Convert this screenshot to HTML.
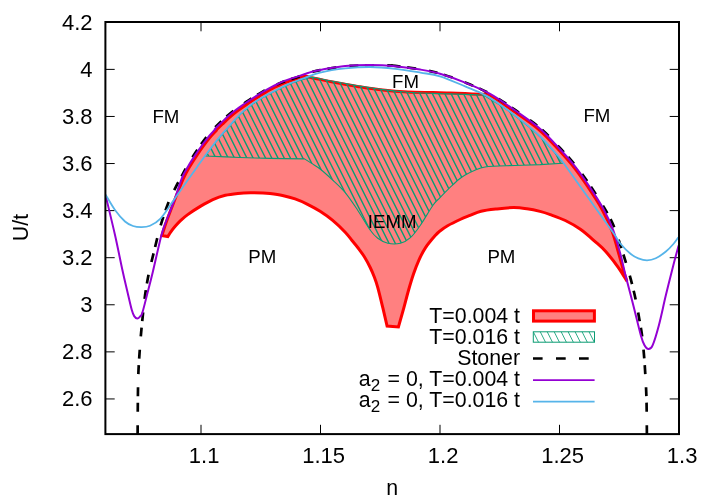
<!DOCTYPE html>
<html><head><meta charset="utf-8"><title>chart</title>
<style>html,body{margin:0;padding:0;background:#fff}body{width:718px;height:503px;overflow:hidden}svg{display:block;will-change:transform}</style></head>
<body>
<svg width="718" height="503" viewBox="0 0 718 503">
<defs>
<clipPath id="gclip"><path d="M205.30,156.00 C206.52,154.37 210.13,149.40 212.60,146.20 C215.07,143.00 217.62,139.75 220.10,136.80 C222.58,133.85 225.22,131.08 227.50,128.50 C229.78,125.92 231.70,123.62 233.80,121.30 C235.90,118.98 238.02,116.63 240.10,114.60 C242.18,112.57 244.22,110.87 246.30,109.12 C248.38,107.36 250.50,105.61 252.60,104.08 C254.70,102.54 256.82,101.20 258.90,99.89 C260.98,98.58 263.02,97.36 265.10,96.21 C267.18,95.06 269.30,94.08 271.40,93.01 C273.50,91.94 275.62,90.84 277.70,89.79 C279.78,88.74 281.82,87.68 283.90,86.70 C285.98,85.72 288.10,84.77 290.20,83.90 C292.30,83.03 294.03,82.31 296.50,81.49 C298.97,80.67 302.92,79.63 305.00,79.00 C307.08,78.37 308.33,77.92 309.00,77.70 C309.67,77.65 311.17,77.23 313.00,77.40 C314.83,77.57 316.72,78.05 320.00,78.70 C323.28,79.35 326.42,80.13 332.70,81.30 C338.98,82.47 349.35,84.32 357.70,85.70 C366.05,87.08 374.43,88.52 382.80,89.60 C391.17,90.68 399.53,91.57 407.90,92.20 C416.27,92.83 425.98,93.12 433.00,93.40 C440.02,93.68 444.65,93.73 450.00,93.90 C455.35,94.07 459.67,94.22 465.10,94.40 C470.53,94.58 479.68,94.90 482.60,95.00 C483.17,95.27 482.65,94.62 486.00,96.60 C489.35,98.58 496.58,102.68 502.70,106.90 C508.82,111.12 516.43,116.88 522.70,121.90 C528.97,126.92 534.87,131.77 540.30,137.00 C545.73,142.23 551.55,148.93 555.30,153.30 C559.05,157.67 561.55,161.55 562.80,163.20 L540.30,164.60 C536.12,164.75 524.40,165.10 515.20,165.50 C506.00,165.90 493.45,165.40 485.10,167.00 C476.75,168.60 470.53,172.08 465.10,175.10 C459.67,178.12 456.68,181.35 452.50,185.10 C448.32,188.85 443.25,194.25 440.00,197.60 C436.75,200.95 436.27,200.60 433.00,205.20 C429.73,209.80 424.17,219.78 420.40,225.20 C416.63,230.62 413.73,234.68 410.40,237.70 C407.07,240.72 404.17,242.37 400.40,243.30 C396.63,244.23 391.57,244.15 387.80,243.30 C384.03,242.45 380.72,240.38 377.80,238.20 C374.88,236.02 373.65,234.87 370.30,230.20 C366.95,225.53 361.88,216.47 357.70,210.20 C353.52,203.93 349.37,197.62 345.20,192.60 C341.03,187.58 336.88,184.03 332.70,180.10 C328.52,176.17 323.55,171.75 320.10,169.00 C316.65,166.25 314.60,165.28 312.00,163.60 C309.40,161.92 305.75,159.68 304.50,158.90 C298.75,158.82 280.75,158.63 270.00,158.40 C259.25,158.17 250.78,157.90 240.00,157.50 C229.22,157.10 211.08,156.25 205.30,156.00 Z"/></clipPath>
<clipPath id="lclip"><rect x="533.3" y="331.8" width="61.2" height="10.4"/></clipPath>
<clipPath id="plot"><rect x="105.40" y="22.00" width="573.60" height="412.10"/></clipPath>
</defs>
<rect width="718" height="503" fill="#fff"/>
<path d="M105.40,22.30 h9.3 M679.00,22.30 h-9.3 M105.40,69.38 h9.3 M679.00,69.38 h-9.3 M105.40,116.46 h9.3 M679.00,116.46 h-9.3 M105.40,163.54 h9.3 M679.00,163.54 h-9.3 M105.40,210.62 h9.3 M679.00,210.62 h-9.3 M105.40,257.70 h9.3 M679.00,257.70 h-9.3 M105.40,304.78 h9.3 M679.00,304.78 h-9.3 M105.40,351.86 h9.3 M679.00,351.86 h-9.3 M105.40,398.94 h9.3 M679.00,398.94 h-9.3 M201.00,434.10 v-9.3 M201.00,22.00 v9.3 M320.50,434.10 v-9.3 M320.50,22.00 v9.3 M440.00,434.10 v-9.3 M440.00,22.00 v9.3 M559.50,434.10 v-9.3 M559.50,22.00 v9.3" stroke="#000" stroke-width="1" fill="none"/>
<g clip-path="url(#plot)">
<path d="M161.90,235.60 C162.63,233.33 164.37,227.43 166.30,222.00 C168.23,216.57 170.69,210.17 173.50,203.00 C176.31,195.83 180.40,185.17 183.16,179.00 C185.92,172.83 187.72,170.03 190.05,166.00 C192.38,161.97 194.85,158.23 197.14,154.80 C199.43,151.37 201.63,148.32 203.77,145.40 C205.91,142.48 207.91,139.80 210.00,137.30 C212.09,134.80 215.27,131.60 216.30,130.40 C217.33,129.20 215.17,131.17 216.20,130.10 C217.23,129.03 220.42,125.98 222.50,124.00 C224.58,122.02 226.63,120.05 228.70,118.20 C230.77,116.34 232.83,114.50 234.90,112.86 C236.97,111.22 239.03,109.82 241.10,108.34 C243.17,106.86 245.23,105.41 247.30,103.98 C249.37,102.56 251.43,101.13 253.50,99.78 C255.57,98.43 257.65,97.14 259.70,95.88 C261.75,94.61 263.75,93.37 265.80,92.19 C267.85,91.00 269.93,89.84 272.00,88.76 C274.07,87.67 276.13,86.67 278.20,85.69 C280.27,84.71 282.33,83.73 284.40,82.88 C286.47,82.03 288.53,81.29 290.60,80.57 C292.67,79.86 294.40,79.30 296.80,78.59 C299.20,77.87 302.57,76.45 305.00,76.30 C307.43,76.15 310.33,77.47 311.40,77.70 C312.83,77.98 316.45,78.68 320.00,79.40 C323.55,80.12 326.42,80.83 332.70,82.00 C338.98,83.17 349.35,85.05 357.70,86.40 C366.05,87.75 374.43,89.15 382.80,90.10 C391.17,91.05 399.53,91.68 407.90,92.10 C416.27,92.52 425.98,92.43 433.00,92.60 C440.02,92.77 444.65,92.93 450.00,93.10 C455.35,93.27 459.67,93.40 465.10,93.60 C470.53,93.80 479.68,94.18 482.60,94.30 C483.83,94.45 484.68,92.32 490.00,95.20 C495.32,98.08 506.25,105.80 514.50,111.60 C522.75,117.40 532.02,123.52 539.50,130.00 C546.98,136.48 553.58,144.20 559.40,150.50 C565.22,156.80 569.80,161.97 574.40,167.80 C579.00,173.63 582.40,178.58 587.00,185.50 C591.60,192.42 597.83,201.72 602.00,209.30 C606.17,216.88 609.12,223.30 612.00,231.00 C614.88,238.70 617.22,248.33 619.30,255.50 C621.38,262.67 623.22,269.70 624.50,274.00 C625.78,278.30 626.58,280.08 627.00,281.30 C625.53,278.97 621.75,272.27 618.20,267.30 C614.65,262.33 609.50,255.75 605.70,251.50 C601.90,247.25 599.62,245.50 595.40,241.80 C591.18,238.10 585.42,232.85 580.40,229.30 C575.38,225.75 570.32,222.95 565.30,220.50 C560.28,218.05 554.52,216.12 550.30,214.60 C546.08,213.08 543.88,212.37 540.00,211.40 C536.12,210.43 531.40,209.43 527.00,208.80 C522.60,208.17 518.60,207.58 513.60,207.60 C508.60,207.62 502.43,208.30 497.00,208.90 C491.57,209.50 485.50,210.12 481.00,211.20 C476.50,212.28 473.48,214.02 470.00,215.40 C466.52,216.78 463.83,217.77 460.10,219.50 C456.37,221.23 450.95,223.88 447.60,225.80 C444.25,227.72 442.02,229.43 440.00,231.00 C437.98,232.57 437.93,232.40 435.50,235.20 C433.07,238.00 428.18,243.62 425.40,247.80 C422.62,251.98 420.78,255.93 418.80,260.30 C416.82,264.67 415.20,269.05 413.50,274.00 C411.80,278.95 410.32,283.97 408.60,290.00 C406.88,296.03 404.90,304.03 403.20,310.20 C401.50,316.37 399.20,324.20 398.40,327.00 L387.10,326.00 C386.38,322.95 384.35,314.10 382.80,307.70 C381.25,301.30 379.22,292.72 377.80,287.60 C376.38,282.48 375.57,280.35 374.30,277.00 C373.03,273.65 371.83,270.83 370.20,267.50 C368.57,264.17 366.45,260.17 364.50,257.00 C362.55,253.83 360.58,251.25 358.50,248.50 C356.42,245.75 354.22,243.22 352.00,240.50 C349.78,237.78 348.42,235.55 345.20,232.20 C341.98,228.85 336.88,223.88 332.70,220.40 C328.52,216.92 324.28,213.98 320.10,211.30 C315.92,208.62 311.77,206.37 307.60,204.30 C303.43,202.23 299.28,200.37 295.10,198.90 C290.92,197.43 286.68,196.40 282.50,195.50 C278.32,194.60 273.25,193.93 270.00,193.50 C266.75,193.07 266.27,193.03 263.00,192.90 C259.73,192.77 254.58,192.62 250.40,192.70 C246.22,192.78 242.08,192.97 237.90,193.40 C233.72,193.83 229.48,194.27 225.30,195.30 C221.12,196.33 216.97,197.75 212.80,199.60 C208.63,201.45 204.48,203.90 200.30,206.40 C196.12,208.90 191.00,212.23 187.70,214.60 C184.40,216.97 182.58,218.65 180.50,220.60 C178.42,222.55 176.78,224.47 175.20,226.30 C173.62,228.13 172.23,229.88 171.00,231.60 C169.77,233.32 168.33,235.77 167.80,236.60 L161.9,235.6 Z" fill="#ff8080" stroke="#ff0000" stroke-width="3" stroke-linejoin="miter"/>
<path d="M103.34,70.00 L193.34,250.00 M109.56,70.00 L199.56,250.00 M115.78,70.00 L205.78,250.00 M122.00,70.00 L212.00,250.00 M128.22,70.00 L218.22,250.00 M134.44,70.00 L224.44,250.00 M140.66,70.00 L230.66,250.00 M146.88,70.00 L236.88,250.00 M153.10,70.00 L243.10,250.00 M159.32,70.00 L249.32,250.00 M165.54,70.00 L255.54,250.00 M171.76,70.00 L261.76,250.00 M177.98,70.00 L267.98,250.00 M184.20,70.00 L274.20,250.00 M190.42,70.00 L280.42,250.00 M196.64,70.00 L286.64,250.00 M202.86,70.00 L292.86,250.00 M209.08,70.00 L299.08,250.00 M215.30,70.00 L305.30,250.00 M221.52,70.00 L311.52,250.00 M227.74,70.00 L317.74,250.00 M233.96,70.00 L323.96,250.00 M240.18,70.00 L330.18,250.00 M246.40,70.00 L336.40,250.00 M252.62,70.00 L342.62,250.00 M258.84,70.00 L348.84,250.00 M265.06,70.00 L355.06,250.00 M271.28,70.00 L361.28,250.00 M277.50,70.00 L367.50,250.00 M283.72,70.00 L373.72,250.00 M289.94,70.00 L379.94,250.00 M296.16,70.00 L386.16,250.00 M302.38,70.00 L392.38,250.00 M308.60,70.00 L398.60,250.00 M314.82,70.00 L404.82,250.00 M321.04,70.00 L411.04,250.00 M327.26,70.00 L417.26,250.00 M333.48,70.00 L423.48,250.00 M339.70,70.00 L429.70,250.00 M345.92,70.00 L435.92,250.00 M352.14,70.00 L442.14,250.00 M358.36,70.00 L448.36,250.00 M364.58,70.00 L454.58,250.00 M370.80,70.00 L460.80,250.00 M377.02,70.00 L467.02,250.00 M383.24,70.00 L473.24,250.00 M389.46,70.00 L479.46,250.00 M395.68,70.00 L485.68,250.00 M401.90,70.00 L491.90,250.00 M408.12,70.00 L498.12,250.00 M414.34,70.00 L504.34,250.00 M420.56,70.00 L510.56,250.00 M426.78,70.00 L516.78,250.00 M433.00,70.00 L523.00,250.00 M439.22,70.00 L529.22,250.00 M445.44,70.00 L535.44,250.00 M451.66,70.00 L541.66,250.00 M457.88,70.00 L547.88,250.00 M464.10,70.00 L554.10,250.00 M470.32,70.00 L560.32,250.00 M476.54,70.00 L566.54,250.00 M482.76,70.00 L572.76,250.00 M488.98,70.00 L578.98,250.00 M495.20,70.00 L585.20,250.00 M501.42,70.00 L591.42,250.00 M507.64,70.00 L597.64,250.00 M513.86,70.00 L603.86,250.00 M520.08,70.00 L610.08,250.00 M526.30,70.00 L616.30,250.00 M532.52,70.00 L622.52,250.00 M538.74,70.00 L628.74,250.00 M544.96,70.00 L634.96,250.00 M551.18,70.00 L641.18,250.00 M557.40,70.00 L647.40,250.00 M563.62,70.00 L653.62,250.00 M569.84,70.00 L659.84,250.00 M576.06,70.00 L666.06,250.00 M582.28,70.00 L672.28,250.00" clip-path="url(#gclip)" stroke="#0a9c73" stroke-width="1.40" fill="none"/>
<path d="M205.30,156.00 C206.52,154.37 210.13,149.40 212.60,146.20 C215.07,143.00 217.62,139.75 220.10,136.80 C222.58,133.85 225.22,131.08 227.50,128.50 C229.78,125.92 231.70,123.62 233.80,121.30 C235.90,118.98 238.02,116.63 240.10,114.60 C242.18,112.57 244.22,110.87 246.30,109.12 C248.38,107.36 250.50,105.61 252.60,104.08 C254.70,102.54 256.82,101.20 258.90,99.89 C260.98,98.58 263.02,97.36 265.10,96.21 C267.18,95.06 269.30,94.08 271.40,93.01 C273.50,91.94 275.62,90.84 277.70,89.79 C279.78,88.74 281.82,87.68 283.90,86.70 C285.98,85.72 288.10,84.77 290.20,83.90 C292.30,83.03 294.03,82.31 296.50,81.49 C298.97,80.67 302.92,79.63 305.00,79.00 C307.08,78.37 308.33,77.92 309.00,77.70 C309.67,77.65 311.17,77.23 313.00,77.40 C314.83,77.57 316.72,78.05 320.00,78.70 C323.28,79.35 326.42,80.13 332.70,81.30 C338.98,82.47 349.35,84.32 357.70,85.70 C366.05,87.08 374.43,88.52 382.80,89.60 C391.17,90.68 399.53,91.57 407.90,92.20 C416.27,92.83 425.98,93.12 433.00,93.40 C440.02,93.68 444.65,93.73 450.00,93.90 C455.35,94.07 459.67,94.22 465.10,94.40 C470.53,94.58 479.68,94.90 482.60,95.00 C483.17,95.27 482.65,94.62 486.00,96.60 C489.35,98.58 496.58,102.68 502.70,106.90 C508.82,111.12 516.43,116.88 522.70,121.90 C528.97,126.92 534.87,131.77 540.30,137.00 C545.73,142.23 551.55,148.93 555.30,153.30 C559.05,157.67 561.55,161.55 562.80,163.20 L540.30,164.60 C536.12,164.75 524.40,165.10 515.20,165.50 C506.00,165.90 493.45,165.40 485.10,167.00 C476.75,168.60 470.53,172.08 465.10,175.10 C459.67,178.12 456.68,181.35 452.50,185.10 C448.32,188.85 443.25,194.25 440.00,197.60 C436.75,200.95 436.27,200.60 433.00,205.20 C429.73,209.80 424.17,219.78 420.40,225.20 C416.63,230.62 413.73,234.68 410.40,237.70 C407.07,240.72 404.17,242.37 400.40,243.30 C396.63,244.23 391.57,244.15 387.80,243.30 C384.03,242.45 380.72,240.38 377.80,238.20 C374.88,236.02 373.65,234.87 370.30,230.20 C366.95,225.53 361.88,216.47 357.70,210.20 C353.52,203.93 349.37,197.62 345.20,192.60 C341.03,187.58 336.88,184.03 332.70,180.10 C328.52,176.17 323.55,171.75 320.10,169.00 C316.65,166.25 314.60,165.28 312.00,163.60 C309.40,161.92 305.75,159.68 304.50,158.90 C298.75,158.82 280.75,158.63 270.00,158.40 C259.25,158.17 250.78,157.90 240.00,157.50 C229.22,157.10 211.08,156.25 205.30,156.00 Z" fill="none" stroke="#0a9c73" stroke-width="1.1" stroke-linejoin="round"/>
<path d="M137.60,436.00 C137.65,429.33 137.77,406.53 137.90,396.00 C138.03,385.47 138.15,379.60 138.40,372.80 C138.65,366.00 138.98,361.47 139.40,355.20 C139.82,348.93 140.37,341.47 140.90,335.20 C141.43,328.93 141.90,324.30 142.60,317.60 C143.30,310.90 144.05,302.43 145.10,295.00 C146.15,287.57 147.43,280.17 148.90,273.00 C150.37,265.83 152.02,259.67 153.90,252.00 C155.78,244.33 157.90,234.92 160.20,227.00 C162.50,219.08 165.15,211.07 167.70,204.50 C170.25,197.93 173.06,192.52 175.50,187.60 C177.95,182.68 180.29,178.83 182.36,175.00 C184.43,171.17 185.82,168.23 187.93,164.60 C190.04,160.97 192.75,156.70 195.03,153.20 C197.30,149.70 199.47,146.57 201.60,143.60 C203.73,140.63 205.72,137.93 207.80,135.40 C209.88,132.87 212.60,130.03 214.10,128.40 C215.60,126.77 215.72,126.68 216.80,125.60 C217.88,124.52 218.93,123.44 220.60,121.90 C222.27,120.36 224.70,118.19 226.80,116.39 C228.90,114.58 231.08,112.69 233.20,111.05 C235.32,109.42 237.40,108.04 239.50,106.57 C241.60,105.09 243.70,103.62 245.80,102.19 C247.90,100.77 250.00,99.36 252.10,98.01 C254.20,96.67 256.30,95.39 258.40,94.12 C260.50,92.85 262.58,91.58 264.70,90.41 C266.82,89.24 268.98,88.13 271.10,87.10 C273.22,86.07 275.30,85.14 277.40,84.23 C279.50,83.31 281.58,82.42 283.70,81.62 C285.82,80.81 287.98,80.08 290.10,79.40 C292.22,78.71 293.92,78.39 296.40,77.50 C298.88,76.62 302.40,75.02 305.00,74.10 C307.60,73.18 309.48,72.67 312.00,72.00 C314.52,71.33 314.57,71.05 320.10,70.10 C325.63,69.15 336.83,67.09 345.20,66.29 C353.57,65.49 362.46,65.43 370.30,65.30 C378.14,65.17 388.59,65.47 392.25,65.50" fill="none" stroke="#000" stroke-width="2.7" stroke-dasharray="8.9 13.2 8.9 6.7" stroke-dashoffset="-2.1"/>
<path d="M646.90,436.00 C646.83,430.00 646.77,410.32 646.50,400.00 C646.23,389.68 645.75,381.97 645.30,374.10 C644.85,366.23 644.35,359.28 643.80,352.80 C643.25,346.32 642.72,340.63 642.00,335.20 C641.28,329.77 640.53,326.05 639.50,320.20 C638.47,314.35 637.22,306.78 635.80,300.10 C634.38,293.42 632.70,286.52 631.00,280.10 C629.30,273.68 627.43,267.62 625.60,261.60 C623.77,255.58 622.03,250.07 620.00,244.00 C617.97,237.93 615.97,231.12 613.40,225.20 C610.83,219.28 608.63,215.33 604.60,208.50 C600.57,201.67 593.93,191.22 589.20,184.20 C584.47,177.18 580.92,172.27 576.20,166.40 C571.48,160.53 566.82,155.32 560.90,149.00 C554.98,142.68 548.27,134.97 540.70,128.50 C533.13,122.03 523.90,115.97 515.50,110.20 C507.10,104.43 498.70,98.53 490.30,93.90 C481.90,89.27 473.48,85.80 465.10,82.40 C456.72,79.00 447.45,75.68 440.00,73.50 C432.55,71.32 427.85,70.57 420.40,69.30 C412.95,68.03 399.99,66.53 395.30,65.90 C390.61,65.27 392.76,65.57 392.25,65.50" fill="none" stroke="#000" stroke-width="2.7" stroke-dasharray="8.9 13.2 8.9 6.7" stroke-dashoffset="-2.1"/>
<path d="M105.50,195.00 C107.08,201.67 112.18,222.50 115.00,235.00 C117.82,247.50 120.40,260.83 122.40,270.00 C124.40,279.17 125.43,283.32 127.00,290.00 C128.57,296.68 130.57,305.70 131.80,310.10 C133.03,314.50 133.48,314.98 134.40,316.40 C135.32,317.82 136.33,318.60 137.30,318.60 C138.27,318.60 139.35,317.40 140.20,316.40 C141.05,315.40 141.17,316.57 142.40,312.60 C143.63,308.63 145.87,299.37 147.60,292.60 C149.33,285.83 150.50,281.57 152.80,272.00 C155.10,262.43 159.10,243.87 161.40,235.20 C163.70,226.53 164.58,225.43 166.60,220.00 C168.62,214.57 170.93,209.60 173.50,202.60 C176.07,195.60 179.43,184.25 182.00,178.00 C184.57,171.75 186.56,169.12 188.89,165.10 C191.23,161.08 193.72,157.33 196.00,153.90 C198.29,150.47 200.47,147.43 202.60,144.50 C204.73,141.57 206.72,138.82 208.80,136.30 C210.88,133.78 214.07,130.63 215.10,129.40 C216.13,128.17 213.97,130.01 215.00,128.90 C216.03,127.79 219.22,124.73 221.30,122.72 C223.38,120.71 225.42,118.70 227.50,116.83 C229.58,114.96 231.70,113.14 233.80,111.49 C235.90,109.83 238.02,108.40 240.10,106.90 C242.18,105.40 244.22,103.93 246.30,102.50 C248.38,101.06 250.50,99.67 252.60,98.31 C254.70,96.94 256.82,95.59 258.90,94.30 C260.98,93.02 263.02,91.80 265.10,90.60 C267.18,89.39 269.30,88.18 271.40,87.08 C273.50,85.99 275.62,84.99 277.70,84.01 C279.78,83.03 281.82,82.06 283.90,81.20 C285.98,80.35 288.10,79.61 290.20,78.89 C292.30,78.17 294.03,77.72 296.50,76.90 C298.97,76.08 302.42,74.87 305.00,74.00 C307.58,73.13 309.48,72.38 312.00,71.70 C314.52,71.02 314.57,70.85 320.10,69.90 C325.63,68.95 336.83,66.81 345.20,65.99 C353.57,65.18 361.95,64.95 370.30,65.00 C378.65,65.05 386.95,65.53 395.30,66.30 C403.65,67.07 412.95,68.35 420.40,69.60 C427.85,70.85 432.55,71.63 440.00,73.80 C447.45,75.97 456.75,79.25 465.10,82.60 C473.45,85.95 481.75,89.25 490.10,93.90 C498.45,98.55 506.83,104.67 515.20,110.50 C523.57,116.33 532.78,122.40 540.30,128.90 C547.82,135.40 554.45,143.18 560.30,149.50 C566.15,155.82 570.77,160.95 575.40,166.80 C580.03,172.65 583.47,177.65 588.10,184.60 C592.73,191.55 599.02,200.90 603.20,208.50 C607.38,216.10 610.28,222.40 613.20,230.20 C616.12,238.00 618.62,247.67 620.70,255.30 C622.78,262.93 623.60,267.68 625.70,276.00 C627.80,284.32 630.78,295.33 633.30,305.20 C635.82,315.07 638.93,328.52 640.80,335.20 C642.67,341.88 643.25,343.00 644.50,345.30 C645.75,347.60 646.95,349.00 648.30,349.00 C649.65,349.00 650.83,349.27 652.60,345.30 C654.37,341.33 656.68,333.57 658.90,325.20 C661.12,316.83 663.48,305.13 665.90,295.10 C668.32,285.07 671.28,273.27 673.40,265.00 C675.52,256.73 677.73,248.75 678.60,245.50" fill="none" stroke="#9400d3" stroke-width="2"/>
<path d="M105.50,194.60 C107.08,197.17 111.75,205.52 115.00,210.00 C118.25,214.48 122.00,218.83 125.00,221.50 C128.00,224.17 130.27,225.05 133.00,226.00 C135.73,226.95 138.57,227.23 141.40,227.20 C144.23,227.17 146.87,227.18 150.00,225.80 C153.13,224.42 156.42,222.93 160.20,218.90 C163.98,214.87 169.18,206.53 172.70,201.60 C176.22,196.67 178.48,193.30 181.30,189.30 C184.12,185.30 186.93,181.37 189.60,177.60 C192.27,173.83 194.72,170.35 197.30,166.70 C199.88,163.05 202.55,159.20 205.10,155.70 C207.65,152.20 210.10,148.93 212.60,145.70 C215.10,142.47 217.62,139.25 220.10,136.30 C222.58,133.35 225.22,130.58 227.50,128.00 C229.78,125.42 231.70,123.12 233.80,120.80 C235.90,118.48 238.02,116.13 240.10,114.10 C242.18,112.07 244.22,110.37 246.30,108.62 C248.38,106.86 250.50,105.11 252.60,103.58 C254.70,102.04 256.82,100.70 258.90,99.39 C260.98,98.08 263.02,96.86 265.10,95.71 C267.18,94.56 269.30,93.58 271.40,92.51 C273.50,91.44 275.62,90.34 277.70,89.29 C279.78,88.24 281.82,87.18 283.90,86.20 C285.98,85.22 288.10,84.27 290.20,83.40 C292.30,82.53 294.03,81.91 296.50,80.99 C298.97,80.07 301.07,79.30 305.00,77.90 C308.93,76.50 313.40,74.17 320.10,72.60 C326.80,71.03 336.83,69.41 345.20,68.48 C353.57,67.55 361.95,66.95 370.30,67.00 C378.65,67.05 386.95,67.87 395.30,68.80 C403.65,69.73 412.95,71.35 420.40,72.60 C427.85,73.85 432.55,74.00 440.00,76.30 C447.45,78.60 457.58,83.27 465.10,86.40 C472.62,89.53 478.83,91.77 485.10,95.10 C491.37,98.43 496.43,102.02 502.70,106.40 C508.97,110.78 516.43,116.38 522.70,121.40 C528.97,126.42 534.87,131.27 540.30,136.50 C545.73,141.73 551.50,148.47 555.30,152.80 C559.10,157.13 557.63,155.03 563.10,162.50 C568.57,169.97 579.75,185.90 588.10,197.60 C596.45,209.30 607.77,224.97 613.20,232.70 C618.63,240.43 617.77,240.45 620.70,244.00 C623.63,247.55 627.87,251.62 630.80,254.00 C633.73,256.38 635.60,257.25 638.30,258.30 C641.00,259.35 644.08,260.30 647.00,260.30 C649.92,260.30 652.65,259.77 655.80,258.30 C658.95,256.83 662.97,253.88 665.90,251.50 C668.83,249.12 671.32,246.38 673.40,244.00 C675.48,241.62 677.57,238.33 678.40,237.20" fill="none" stroke="#56b4e9" stroke-width="1.8"/>
</g>
<rect x="105.40" y="22.00" width="573.60" height="412.10" fill="none" stroke="#000" stroke-width="2"/>
<g font-family="Liberation Sans, sans-serif" font-size="21.33" fill="#000">
<text x="92.6" y="29.65" text-anchor="end" font-size="22">4.2</text>
<text x="92.6" y="76.73" text-anchor="end" font-size="22">4</text>
<text x="92.6" y="123.81" text-anchor="end" font-size="22">3.8</text>
<text x="92.6" y="170.89" text-anchor="end" font-size="22">3.6</text>
<text x="92.6" y="217.97" text-anchor="end" font-size="22">3.4</text>
<text x="92.6" y="265.05" text-anchor="end" font-size="22">3.2</text>
<text x="92.6" y="312.13" text-anchor="end" font-size="22">3</text>
<text x="92.6" y="359.21" text-anchor="end" font-size="22">2.8</text>
<text x="92.6" y="406.29" text-anchor="end" font-size="22">2.6</text>
<text x="204.10" y="462.6" text-anchor="middle" font-size="22">1.1</text>
<text x="323.60" y="462.6" text-anchor="middle" font-size="22">1.15</text>
<text x="443.10" y="462.6" text-anchor="middle" font-size="22">1.2</text>
<text x="562.60" y="462.6" text-anchor="middle" font-size="22">1.25</text>
<text x="682.10" y="462.6" text-anchor="middle" font-size="22">1.3</text>
<text x="392.2" y="494.7" text-anchor="middle">n</text>
<text transform="translate(28,227.5) rotate(-90)" text-anchor="middle">U/t</text>
<text x="520" y="322.60" text-anchor="end">T=0.004 t</text>
<text x="520" y="343.90" text-anchor="end">T=0.016 t</text>
<text x="520" y="364.90" text-anchor="end">Stoner</text>
<text x="520" y="385.90" text-anchor="end">a<tspan font-size="17.07" dy="5.2">2</tspan><tspan dy="-5.2" dx="1.5"> = 0, T=0.004 t</tspan></text>
<text x="520" y="407.00" text-anchor="end">a<tspan font-size="17.07" dy="5.2">2</tspan><tspan dy="-5.2" dx="1.5"> = 0, T=0.016 t</tspan></text>
</g>
<g font-family="Liberation Sans, sans-serif" font-size="18.67" fill="#000">
<text x="152.4" y="122.7">FM</text>
<text x="392" y="87.6">FM</text>
<text x="583.4" y="122.3">FM</text>
<text x="248.2" y="262.9">PM</text>
<text x="487.4" y="262.9">PM</text>
<text x="367.8" y="228.3">IEMM</text>
</g>
<rect x="533.5" y="310.8" width="60.9" height="10.3" fill="#ff8080" stroke="#ff0000" stroke-width="3"/>
<path d="M525.83,330.8 l6.2,12.4 M532.80,330.8 l6.2,12.4 M539.77,330.8 l6.2,12.4 M546.74,330.8 l6.2,12.4 M553.71,330.8 l6.2,12.4 M560.68,330.8 l6.2,12.4 M567.65,330.8 l6.2,12.4 M574.62,330.8 l6.2,12.4 M581.59,330.8 l6.2,12.4 M588.56,330.8 l6.2,12.4 M595.53,330.8 l6.2,12.4" clip-path="url(#lclip)" stroke="#0a9c73" stroke-width="0.85" fill="none"/>
<rect x="533.3" y="331.8" width="61.2" height="10.4" fill="none" stroke="#0a9c73" stroke-width="1"/>
<path d="M533.0,358.5 h9.6 M556.0,358.5 h9.7 M579.0,358.5 h9.7" stroke="#000" stroke-width="2.7" fill="none"/>
<path d="M533.0,380.1 H594.6" stroke="#9400d3" stroke-width="1.8" fill="none"/>
<path d="M533.0,401.7 H594.6" stroke="#56b4e9" stroke-width="1.8" fill="none"/>
</svg>
</body></html>
